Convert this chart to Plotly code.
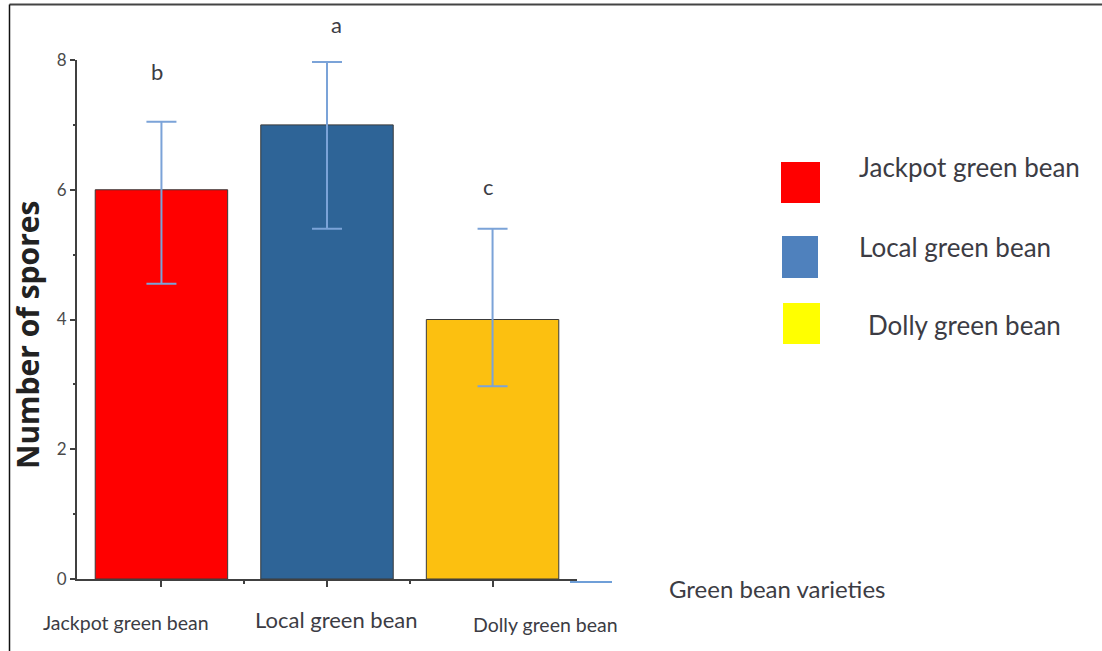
import plotly.graph_objects as go

# Mean spore counts per green bean variety, with asymmetric error bars
varieties = ["Jackpot green bean", "Local green bean", "Dolly green bean"]
spores = [6.0, 7.0, 4.0]
err_plus = [1.05, 0.97, 1.4]
err_minus = [1.45, 1.6, 1.03]
letters = ["b", "a", "c"]

bar_colors = ["#FF0000", "#2E6497", "#FCC010"]
legend_colors = ["#FF0000", "#4F81BD", "#FFFF00"]

W, H = 1102, 651
L, R, T, B = 77, 525, 60, 72
PW, PH = W - L - R, H - T - B


def px(x):
    return (x - L) / PW


def py(y):
    return (H - B - y) / PH


FONT = "Lato"
TXT = "#3c3c44"

xpos = list(range(len(varieties)))

fig = go.Figure()
fig.add_trace(go.Bar(
    x=xpos, y=spores, width=0.8,
    marker=dict(color=bar_colors, line=dict(color="#3a3a3a", width=1)),
    error_y=dict(type="data", symmetric=False, array=err_plus, arrayminus=err_minus,
                 color="#7BA3D8", thickness=2, width=15),
    showlegend=False,
))

annotations = []
# significance letters above the error bars
letter_shift = [(-4, 50), (9, 37), (-4, 42)]
for i, (lt, (dx, dy)) in enumerate(zip(letters, letter_shift)):
    annotations.append(dict(x=xpos[i], y=spores[i] + err_plus[i], xref="x", yref="y",
                            text=lt, showarrow=False, xshift=dx, yshift=dy,
                            yanchor="middle",
                            font=dict(family=FONT, size=22, color=TXT)))

# category labels under the axis
label_style = [(-35, 623, 19.5), (9, 619, 22), (53, 624, 19.5)]
for i, (dx, yy, fs) in enumerate(label_style):
    annotations.append(dict(x=xpos[i], y=py(yy), xref="x", yref="paper",
                            text=varieties[i], showarrow=False, xshift=dx,
                            yanchor="middle",
                            font=dict(family=FONT, size=fs, color=TXT)))

annotations.append(dict(x=px(667), y=py(588), xref="paper", yref="paper",
                        xanchor="left", yanchor="middle",
                        text="Green bean varieties", showarrow=False,
                        font=dict(family=FONT, size=24, color=TXT)))

# y axis title
annotations.append(dict(x=px(28), y=py(335), xref="paper", yref="paper",
                        xanchor="center", yanchor="middle", textangle=-90,
                        text="<b>Number of spores</b>", showarrow=False,
                        font=dict(family="Open Sans", size=30, color="#222222")))

# legend drawn as boxes with labels
shapes = []
legend_boxes = [(781, 162, 820, 203), (782, 236, 818, 278), (783, 303, 820, 344)]
legend_text = [(857, 167), (857, 247), (866, 325)]
for c, (x0, y0, x1, y1), (tx, ty), name in zip(legend_colors, legend_boxes, legend_text, varieties):
    shapes.append(dict(type="rect", xref="paper", yref="paper",
                       x0=px(x0), x1=px(x1), y0=py(y1), y1=py(y0),
                       fillcolor=c, line=dict(width=0), layer="above"))
    annotations.append(dict(x=px(tx), y=py(ty), xref="paper", yref="paper",
                            xanchor="left", yanchor="middle",
                            text=name, showarrow=False,
                            font=dict(family=FONT, size=26, color=TXT)))

# blue extension of the x axis line
shapes.append(dict(type="line", xref="paper", yref="paper",
                   x0=px(570), x1=px(612), y0=py(582), y1=py(582),
                   line=dict(color="#6F9FD8", width=2)))
# outer frame
shapes.append(dict(type="line", xref="paper", yref="paper",
                   x0=px(9.5), x1=px(W), y0=py(4.5), y1=py(4.5),
                   line=dict(color="#444444", width=2)))
shapes.append(dict(type="line", xref="paper", yref="paper",
                   x0=px(9.5), x1=px(9.5), y0=py(4.5), y1=py(H),
                   line=dict(color="#111111", width=1.5)))

fig.update_layout(
    width=W, height=H,
    margin=dict(l=L, r=R, t=T, b=B),
    paper_bgcolor="white", plot_bgcolor="white",
    annotations=annotations, shapes=shapes,
    bargap=0.2,
)
fig.update_xaxes(range=[-0.51, 2.51], showgrid=False, zeroline=False,
                 showline=True, linecolor="#404040", linewidth=2,
                 tickvals=xpos, ticks="outside", ticklen=6, tickcolor="#404040", tickwidth=1.5,
                 showticklabels=False,
                 minor=dict(tickvals=[0.5, 1.5], ticks="outside", ticklen=3,
                            tickcolor="#404040", tickwidth=1.5))
fig.update_yaxes(range=[0, 8], showgrid=False, zeroline=False,
                 showline=True, linecolor="#404040", linewidth=2,
                 tickvals=[0, 2, 4, 6, 8], ticks="outside", ticklen=5,
                 tickcolor="#404040", tickwidth=1.5,
                 tickfont=dict(family=FONT, size=17, color="#4a4a4a"),
                 minor=dict(tickvals=[1, 3, 5, 7], ticks="outside", ticklen=2,
                            tickcolor="#404040", tickwidth=1.5))

fig.write_html("out.html")
